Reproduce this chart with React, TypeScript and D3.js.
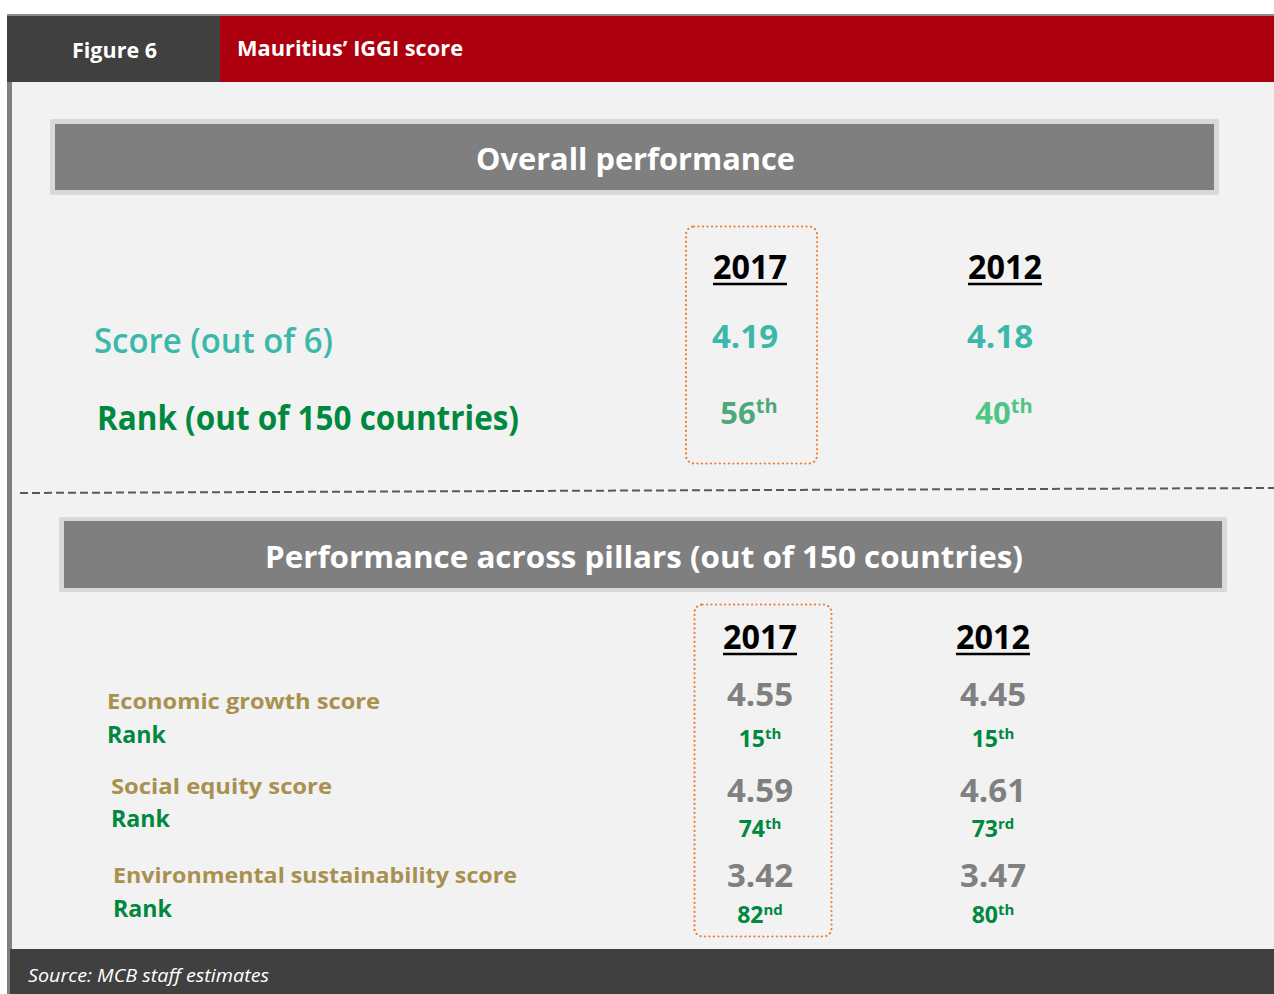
import React from "react";
import * as d3 from "d3";

// ---------- data ----------
const figureLabel = "Figure 6";
const figureTitle = "Mauritius’ IGGI score";
const sectionTitles = ["Overall performance", "Performance across pillars (out of 150 countries)"];
const years = ["2017", "2012"];
const overallScore = [4.19, 4.18];
const overallRank = [56, 40];
const overallLabels = ["Score (out of 6)", "Rank (out of 150 countries)"];
const pillars = ["Economic growth score", "Social equity score", "Environmental sustainability score"];
const pillarScore2017 = [4.55, 4.59, 3.42];
const pillarScore2012 = [4.45, 4.61, 3.47];
const pillarRank2017 = [15, 74, 82];
const pillarRank2012 = [15, 73, 80];
const sourceText = "Source: MCB staff estimates";

// ---------- helpers ----------
const FONT = "'Open Sans', 'Noto Sans', sans-serif";
const suffix = (n: number) => {
  const m100 = n % 100;
  if (m100 >= 11 && m100 <= 13) return "th";
  const m = n % 10;
  return m === 1 ? "st" : m === 2 ? "nd" : m === 3 ? "rd" : "th";
};

const C = {
  red: "#AD000E",
  dark: "#404040",
  bg: "#F2F2F2",
  boxOuter: "#D9D9D9",
  boxInner: "#7F7F7F",
  teal: "#3CB8AB",
  green: "#00883F",
  green56: "#4DAA78",
  green40: "#4DC585",
  gold: "#A8904F",
  grey: "#808080",
  orange: "#ED7D31",
};

function Rank({ x, y, n, size, supSize, dy, numW, fill }: any) {
  return (
    <text x={x} y={y} textAnchor="middle" fontFamily={FONT} fontWeight={700} fontSize={size} fill={fill}>
      {n}
      <tspan fontSize={supSize} dy={-dy}>{suffix(n)}</tspan>
    </text>
  );
}

function Year({ x, y, label }: any) {
  const w = 74;
  return (
    <g>
      <text x={x} y={y} textAnchor="middle" fontFamily={FONT} fontWeight={700} fontSize={34} fill="#000" textLength={w} lengthAdjust="spacingAndGlyphs">
        {label}
      </text>
      <line x1={x - w / 2} x2={x + w / 2} y1={y + 5} y2={y + 5} stroke="#000" strokeWidth={2.5} />
    </g>
  );
}

export default function App() {
  const W = 1274, H = 994;

  // scales
  const topCol = d3.scalePoint<string>().domain(years).range([750, 1005]);
  const topRow = d3.scaleOrdinal<string, number>().domain(["year", "score", "rank"]).range([279, 348, 424]);
  const botCol = d3.scalePoint<string>().domain(years).range([760, 993]);
  const scoreRow = d3.scaleOrdinal<string, number>().domain(pillars).range([706, 802, 887]);
  const rankRow = d3.scaleOrdinal<string, number>().domain(pillars).range([747, 837, 923]);
  const labelX = d3.scaleOrdinal<string, number>().domain(pillars).range([107, 111, 113]);
  const labelScoreY = d3.scaleOrdinal<string, number>().domain(pillars).range([709, 794, 883]);
  const labelRankY = d3.scaleOrdinal<string, number>().domain(pillars).range([743, 827, 917]);
  const labelW = d3.scaleOrdinal<string, number>().domain(pillars).range([273, 221, 404]);

  const scores = [pillarScore2017, pillarScore2012];
  const ranks = [pillarRank2017, pillarRank2012];

  return (
    <svg width={W} height={H} style={{ position: "absolute", left: 0, top: 0, display: "block" }}>
      <rect x={0} y={0} width={W} height={H} fill="#fff" />
      {/* body background */}
      <rect x={10} y={82} width={W - 10} height={868} fill={C.bg} />
      {/* header */}
      <rect x={7} y={14} width={W - 7} height={2} fill="#8C8C8C" />
      <rect x={7} y={16} width={213} height={66} fill={C.dark} />
      <rect x={220} y={16} width={W - 220} height={66} fill={C.red} />
      <text x={72} y={58} fontFamily={FONT} fontWeight={700} fontSize={22} fill="#fff" textLength={85} lengthAdjust="spacingAndGlyphs">{figureLabel}</text>
      <text x={237} y={56} fontFamily={FONT} fontWeight={700} fontSize={22} fill="#fff" textLength={226} lengthAdjust="spacingAndGlyphs">{figureTitle}</text>
      {/* left bar */}
      <rect x={7} y={82} width={5} height={H - 82} fill="#808080" />
      {/* footer */}
      <rect x={10} y={949} width={W - 10} height={H - 949} fill={C.dark} />
      <text x={28} y={982} fontFamily={FONT} fontStyle="italic" fontSize={18.5} fill="#fff" textLength={241} lengthAdjust="spacingAndGlyphs">{sourceText}</text>

      {/* section 1 title box */}
      <rect x={50} y={119} width={1169} height={76} fill={C.boxOuter} rx={2} />
      <rect x={55} y={124} width={1159} height={66} fill={C.boxInner} />
      <text x={635.5} y={170} textAnchor="middle" fontFamily={FONT} fontWeight={700} fontSize={31} fill="#fff" textLength={319} lengthAdjust="spacingAndGlyphs">{sectionTitles[0]}</text>

      {/* dotted highlight box top */}
      <rect x={686} y={226.5} width={131} height={237} rx={8} fill="none" stroke={C.orange} strokeWidth={2.2} strokeDasharray="0.1 4.4" strokeLinecap="round" />

      {/* overall labels */}
      <text x={94} y={353} fontFamily={FONT} fontWeight={600} fontSize={34} fill={C.teal} textLength={239} lengthAdjust="spacingAndGlyphs">{overallLabels[0]}</text>
      <text x={97} y={430} fontFamily={FONT} fontWeight={700} fontSize={34} fill={C.green} textLength={422} lengthAdjust="spacingAndGlyphs">{overallLabels[1]}</text>

      {years.map((yr, i) => {
        const cx = topCol(yr)!;
        return (
          <g key={yr}>
            <Year x={cx} y={topRow("year")} label={yr} />
            <text x={cx - 5} y={topRow("score")} textAnchor="middle" fontFamily={FONT} fontWeight={700} fontSize={32} fill={C.teal} textLength={66} lengthAdjust="spacingAndGlyphs">
              {overallScore[i].toFixed(2)}
            </text>
            <Rank x={cx - 1} y={topRow("rank")} n={overallRank[i]} size={31} supSize={20} dy={11} fill={i === 0 ? C.green56 : C.green40} />
          </g>
        );
      })}

      {/* dashed separator */}
      <line x1={20} y1={493} x2={W} y2={488} stroke="#595959" strokeWidth={2} strokeDasharray="8 4" />

      {/* section 2 title box */}
      <rect x={59} y={517} width={1168} height={75} fill={C.boxOuter} rx={2} />
      <rect x={64} y={521} width={1158} height={67} fill={C.boxInner} />
      <text x={644} y={568} textAnchor="middle" fontFamily={FONT} fontWeight={700} fontSize={31} fill="#fff" textLength={758} lengthAdjust="spacingAndGlyphs">{sectionTitles[1]}</text>

      {/* dotted highlight box bottom */}
      <rect x={694.5} y={604.5} width={137} height={332} rx={8} fill="none" stroke={C.orange} strokeWidth={2.2} strokeDasharray="0.1 4.4" strokeLinecap="round" />

      {/* pillar labels */}
      {pillars.map((p) => (
        <g key={p}>
          <text x={labelX(p)} y={labelScoreY(p)} fontFamily={FONT} fontWeight={700} fontSize={22} fill={C.gold} textLength={labelW(p)} lengthAdjust="spacingAndGlyphs">{p}</text>
          <text x={labelX(p)} y={labelRankY(p)} fontFamily={FONT} fontWeight={700} fontSize={23} fill={C.green} textLength={59} lengthAdjust="spacingAndGlyphs">Rank</text>
        </g>
      ))}

      {years.map((yr, i) => {
        const cx = botCol(yr)!;
        return (
          <g key={"b" + yr}>
            <Year x={cx} y={649} label={yr} />
            {pillars.map((p, j) => (
              <g key={p}>
                <text x={cx} y={scoreRow(p)} textAnchor="middle" fontFamily={FONT} fontWeight={700} fontSize={32} fill={C.grey} textLength={66} lengthAdjust="spacingAndGlyphs">
                  {scores[i][j].toFixed(2)}
                </text>
                <Rank x={cx} y={rankRow(p)} n={ranks[i][j]} size={23} supSize={15} dy={8} fill={C.green} />
              </g>
            ))}
          </g>
        );
      })}
    </svg>
  );
}
